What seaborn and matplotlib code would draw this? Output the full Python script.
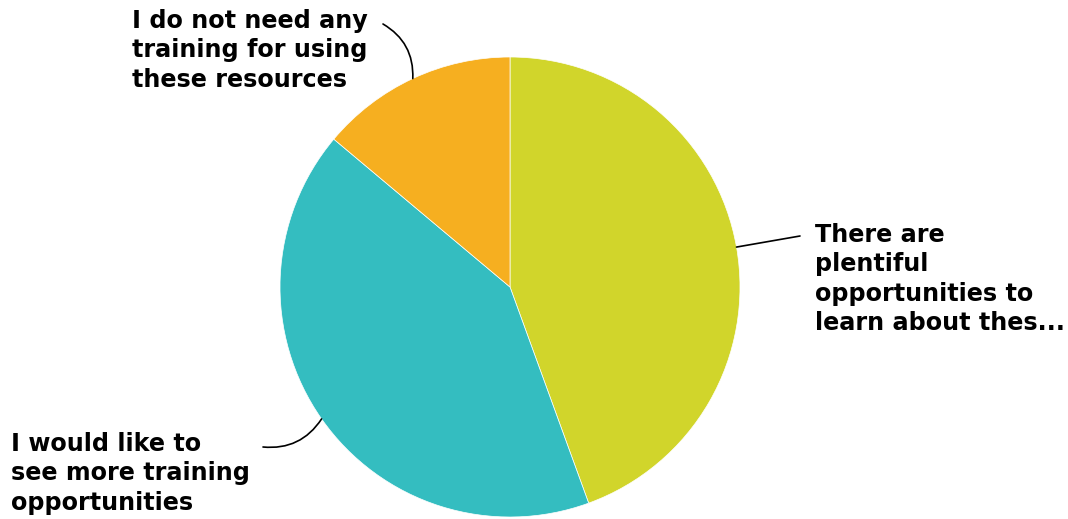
import numpy as np
import seaborn as sns
import matplotlib
matplotlib.use('Agg')
import matplotlib.pyplot as plt

# Survey answers (counts)
labels = ['There are\nplentiful\nopportunities to\nlearn about thes...',
          'I would like to\nsee more training\nopportunities',
          'I do not need any\ntraining for using\nthese resources']
counts = [16, 15, 5]
colors = ['#D1D52B', '#34BDC0', '#F6AF20']

W, H = 1068, 519
CX, CY, R = 510, 287, 230


def px(x, y):
    # pixel position -> data coords (pie radius = 1)
    return (x - CX) / R, (CY - y) / R


sns.set_theme(style='white')
plt.rcParams['font.family'] = ['DejaVu Sans']

fig = plt.figure(figsize=(W / 100, H / 100), dpi=100)
ax = fig.add_axes([0, 0, 1, 1])

wedges, _ = ax.pie(counts, colors=sns.color_palette(colors), startangle=90,
                   counterclock=False, radius=1, center=(0, 0),
                   wedgeprops=dict(linewidth=0.5, edgecolor='white'))
# pie() resets the limits, so set them afterwards
ax.set_xlim(-CX / R, (W - CX) / R)
ax.set_ylim(-(H - CY) / R, CY / R)
ax.axis('off')

# label text (top-left corner) and the end of each connector near the text
text_pos = [px(815, 223), px(11, 432), px(132, 9)]
line_end = [px(800, 236), px(263, 447), px(383, 24)]
rads = [0.0, 0.3, -0.3]

for w, lab, tp, le, rad in zip(wedges, labels, text_pos, line_end, rads):
    mid = np.deg2rad((w.theta1 + w.theta2) / 2)
    edge = (np.cos(mid), np.sin(mid))
    ax.annotate('', xy=edge, xytext=le,
                arrowprops=dict(arrowstyle='-', color='black', lw=1.2,
                                shrinkA=0, shrinkB=0,
                                connectionstyle=f'arc3,rad={rad}'))
    ax.text(tp[0], tp[1], lab, ha='left', va='top', fontsize=17.2,
            fontweight='bold', color='black', linespacing=1.28)

fig.savefig('out.png', dpi=100)
